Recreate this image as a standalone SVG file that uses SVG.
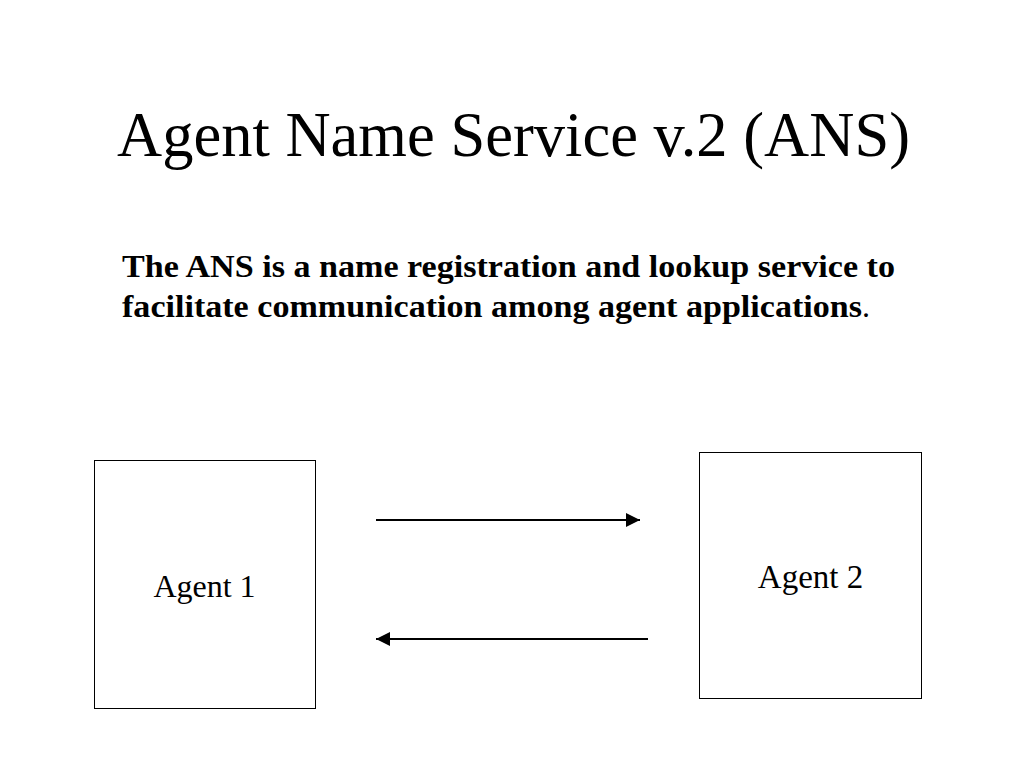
<svg xmlns="http://www.w3.org/2000/svg" width="1024" height="768" viewBox="0 0 1024 768">
<style>
.t{font-family:"Liberation Serif","Times New Roman",serif;fill:#000}
.box{fill:#fff;stroke:#000;stroke-width:1}
.ln{stroke:#000;stroke-width:2;fill:none}
</style>
<defs>
<marker id="ah" viewBox="0 0 10 10" refX="10" refY="5" markerWidth="14" markerHeight="14" orient="auto" markerUnits="userSpaceOnUse">
<path d="M0,0 L10,5 L0,10 z" fill="#000"/>
</marker>
</defs>
<rect width="1024" height="768" fill="#fff"/>
<text id="title" class="t" x="117" y="156" font-size="63" textLength="793" lengthAdjust="spacingAndGlyphs">Agent Name Service v.2 (ANS)</text>
<g id="desc">
<text class="t" x="122" y="277" font-size="32" font-weight="bold" textLength="773" lengthAdjust="spacingAndGlyphs">The ANS is a name registration and lookup service to</text>
<text class="t" x="122" y="317" font-size="32"><tspan font-weight="bold" textLength="740" lengthAdjust="spacingAndGlyphs">facilitate communication among agent applications</tspan><tspan>.</tspan></text>
</g>
<g id="agent1">
<rect class="box" x="94.5" y="460.5" width="221" height="248"/>
<text class="t" x="204.5" y="597" font-size="32" text-anchor="middle">Agent 1</text>
</g>
<g id="agent2">
<rect class="box" x="699.5" y="452.5" width="222" height="246"/>
<text class="t" x="810.5" y="588" font-size="33" text-anchor="middle">Agent 2</text>
</g>
<g id="connectors">
<line class="ln" x1="376" y1="520" x2="640" y2="520" marker-end="url(#ah)"/>
<line class="ln" x1="648" y1="639" x2="376" y2="639" marker-end="url(#ah)"/>
</g>
</svg>
